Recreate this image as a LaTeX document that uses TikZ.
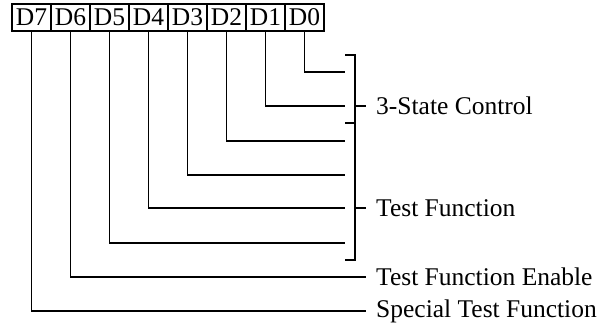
\documentclass[tikz,border=0pt]{standalone}
\usepackage{fontspec}
\setmainfont{Liberation Serif}
\usepackage{tikz}
\usetikzlibrary{arrows.meta}

\tikzset{
  regcell/.style={draw, line width=1.2pt, minimum width=39pt, minimum height=27pt, inner sep=0pt},
  fieldlbl/.style={anchor=west, inner xsep=10pt, inner ysep=0pt},
  wire/.style={line width=1.4pt}
}

\begin{document}
\begin{tikzpicture}[x=1pt,y=-1pt,font=\fontsize{25.5}{30}\selectfont]
\useasboundingbox (0,0) rectangle (603,325);
\foreach \i in {0,...,7}
  \node[regcell] (d\i) at ({31.5+39*(7-\i)},17.5) {D\i};
\foreach \i/\y in {0/72,1/106,2/141,3/175,4/208,5/243}
  \coordinate (e\i) at (345,\y);
\foreach \i in {0,...,5}
  \draw[wire] (d\i.south) |- (e\i);
\node[fieldlbl] (ctl) at (366,106) {3-State Control};
\node[fieldlbl] (tst) at (366,208) {Test Function};
\node[fieldlbl] (ena) at (366,277) {Test Function Enable};
\node[fieldlbl] (spc) at (366,311) {Special Test Function};
\draw[wire] (345,55) -- (355,55) -- (355,260) -- (345,260);
\draw[wire] (345,123) -- (355,123);
\draw[wire] (355,106) -- (ctl.west);
\draw[wire] (355,208) -- (tst.west);
\draw[wire] (d6.south) |- (ena.west);
\draw[wire] (d7.south) |- (spc.west);
\end{tikzpicture}
\end{document}
